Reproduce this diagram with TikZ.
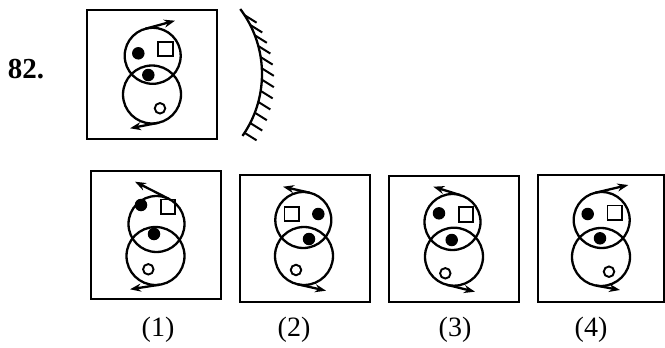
\documentclass[tikz,border=0pt]{standalone}
\usepackage{fontspec}
\setmainfont{Liberation Serif}
\usetikzlibrary{arrows.meta}
\tikzset{
  frame/.style={draw, rectangle, line width=2.5pt, inner sep=0pt, outer sep=0pt},
  ring/.style={draw, circle, line width=2.3pt, inner sep=0pt, outer sep=0pt, minimum size=#1},
  dot/.style={fill, circle, inner sep=0pt, outer sep=0pt, minimum size=12.5pt},
  hole/.style={draw, circle, fill=white, line width=1.9pt, inner sep=0pt, minimum size=10.5pt},
  sq/.style={draw, rectangle, line width=1.9pt, inner sep=0pt, minimum size=14.5pt},
  arr/.style={line width=2.3pt, -{Stealth[length=11pt,width=8pt]}},
  lab/.style={font=\fontsize{28}{32}\selectfont},
  hatch/.style={line width=2pt},
}
\begin{document}
\begin{tikzpicture}[x=1pt,y=-1pt]
\useasboundingbox (0,0) rectangle (665,348);
% number
\node[font=\fontsize{29}{33}\selectfont\bfseries] (num) at (26,69) {82.};
% question figure
\node[frame, minimum width=130pt, minimum height=129pt] (b0) at (152,74.5) {};
\node[ring=56pt] (u0) at (152.7,55.8) {};
\node[ring=58pt] (l0) at (152,94.5) {};
\node[dot] (d0) at (138.3,53.3) {};
\node[sq] (s0) at (165.5,48.9) {};
\node[dot] (e0) at (148.3,75) {};
\node[hole] (h0) at (160,108.3) {};
\coordinate (ta0) at (175,20.7);
\coordinate (tb0) at (130,128.3);
\draw[arr] (u0.105) -- (ta0);
\draw[arr] (l0.282) -- (tb0);
% mirror
\draw[line width=2.3pt] plot[domain=-35:37, samples=50] ({154+108*cos(\x)},{74-108*sin(\x)});
\foreach \a in {-33,-27,...,33}
  \draw[hatch] ({154+108*cos(\a)},{74-108*sin(\a)}) -- ++(12,7.5);
% option 1
\node[frame, minimum width=130pt, minimum height=128pt] (b1) at (156,235) {};
\node[ring=56pt] (u1) at (156.5,224) {};
\node[ring=58pt] (l1) at (155.5,256) {};
\node[dot] (d1) at (141,205) {};
\node[sq] (s1) at (168,206.7) {};
\node[dot] (e1) at (154,234) {};
\node[hole] (h1) at (148.3,269.3) {};
\coordinate (ta1) at (135,181.7);
\coordinate (tb1) at (130,289.3);
\draw[arr] (u1.63) -- (ta1);
\draw[arr] (l1.279) -- (tb1);
% option 2
\node[frame, minimum width=130pt, minimum height=127pt] (b2) at (305,238.5) {};
\node[ring=56pt] (u2) at (303.3,220) {};
\node[ring=58pt] (l2) at (304,256) {};
\node[sq] (s2) at (291.7,214) {};
\node[dot] (d2) at (318.3,214) {};
\node[dot] (e2) at (309,239) {};
\node[hole] (h2) at (296,270) {};
\coordinate (ta2) at (283,186.7);
\coordinate (tb2) at (326,290.7);
\draw[arr] (u2.77) -- (ta2);
\draw[arr] (l2.257) -- (tb2);
% option 3
\node[frame, minimum width=130pt, minimum height=126pt] (b3) at (454,239) {};
\node[ring=56pt] (u3) at (452.5,222) {};
\node[ring=58pt] (l3) at (454,256.7) {};
\node[dot] (d3) at (439,213.3) {};
\node[sq] (s3) at (466,214.5) {};
\node[dot] (e3) at (451.7,240) {};
\node[hole] (h3) at (445.3,273.3) {};
\coordinate (ta3) at (433.3,186.7);
\coordinate (tb3) at (475,291.7);
\draw[arr] (u3.73) -- (ta3);
\draw[arr] (l3.256) -- (tb3);
% option 4
\node[frame, minimum width=126pt, minimum height=127pt] (b4) at (601,238.5) {};
\node[ring=56pt] (u4) at (601.7,220) {};
\node[ring=58pt] (l4) at (601,257) {};
\node[dot] (d4) at (587.7,214) {};
\node[sq] (s4) at (614.7,212.7) {};
\node[dot] (e4) at (600,238.3) {};
\node[hole] (h4) at (609,271.7) {};
\coordinate (ta4) at (628.3,185);
\coordinate (tb4) at (620,290);
\draw[arr] (u4.103) -- (ta4);
\draw[arr] (l4.260) -- (tb4);
% labels
\node[lab] (c1) at (158,329.5) {(1)};
\node[lab] (c2) at (294,329.5) {(2)};
\node[lab] (c3) at (455,329.5) {(3)};
\node[lab] (c4) at (591,329.5) {(4)};
\end{tikzpicture}
\end{document}
